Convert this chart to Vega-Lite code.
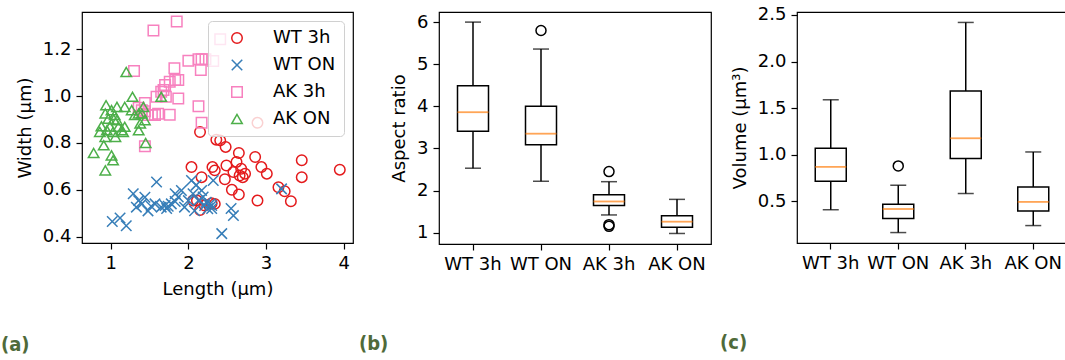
{
  "$schema": "https://vega.github.io/schema/vega-lite/v6.json",
  "background": "white",
  "padding": {"left": 0, "top": 5, "right": 0, "bottom": 0},
  "spacing": 86,
  "bounds": "flush",
  "resolve": {"legend": {"color": "independent", "shape": "independent"}},
  "datasets": {
    "cells": [
      {"g": "WT 3h", "L": 2.15, "W": 0.847}, {"g": "WT 3h", "L": 2.36, "W": 0.814}, {"g": "WT 3h", "L": 2.41, "W": 0.811},
      {"g": "WT 3h", "L": 2.48, "W": 0.783}, {"g": "WT 3h", "L": 2.65, "W": 0.757}, {"g": "WT 3h", "L": 2.86, "W": 0.740},
      {"g": "WT 3h", "L": 3.46, "W": 0.726}, {"g": "WT 3h", "L": 3.95, "W": 0.686}, {"g": "WT 3h", "L": 2.89, "W": 0.886},
      {"g": "WT 3h", "L": 2.04, "W": 0.697}, {"g": "WT 3h", "L": 2.17, "W": 0.654}, {"g": "WT 3h", "L": 2.31, "W": 0.697},
      {"g": "WT 3h", "L": 2.34, "W": 0.683}, {"g": "WT 3h", "L": 2.49, "W": 0.704}, {"g": "WT 3h", "L": 2.47, "W": 0.645},
      {"g": "WT 3h", "L": 2.58, "W": 0.676}, {"g": "WT 3h", "L": 2.62, "W": 0.719}, {"g": "WT 3h", "L": 2.66, "W": 0.661},
      {"g": "WT 3h", "L": 2.68, "W": 0.690}, {"g": "WT 3h", "L": 2.70, "W": 0.654}, {"g": "WT 3h", "L": 2.73, "W": 0.669},
      {"g": "WT 3h", "L": 2.94, "W": 0.697}, {"g": "WT 3h", "L": 3.01, "W": 0.669}, {"g": "WT 3h", "L": 2.56, "W": 0.600},
      {"g": "WT 3h", "L": 2.65, "W": 0.580}, {"g": "WT 3h", "L": 2.89, "W": 0.554}, {"g": "WT 3h", "L": 3.16, "W": 0.611},
      {"g": "WT 3h", "L": 3.24, "W": 0.594}, {"g": "WT 3h", "L": 3.32, "W": 0.551}, {"g": "WT 3h", "L": 3.46, "W": 0.654},
      {"g": "WT 3h", "L": 2.06, "W": 0.554}, {"g": "WT 3h", "L": 2.15, "W": 0.514}, {"g": "WT 3h", "L": 2.30, "W": 0.543},
      {"g": "WT 3h", "L": 2.34, "W": 0.540}, {"g": "WT 3h", "L": 2.11, "W": 0.554}, {"g": "WT 3h", "L": 2.21, "W": 0.533},
      {"g": "WT ON", "L": 1.02, "W": 0.465}, {"g": "WT ON", "L": 1.12, "W": 0.480}, {"g": "WT ON", "L": 1.20, "W": 0.447},
      {"g": "WT ON", "L": 1.29, "W": 0.583}, {"g": "WT ON", "L": 1.33, "W": 0.526}, {"g": "WT ON", "L": 1.36, "W": 0.554},
      {"g": "WT ON", "L": 1.40, "W": 0.540}, {"g": "WT ON", "L": 1.44, "W": 0.568}, {"g": "WT ON", "L": 1.48, "W": 0.510},
      {"g": "WT ON", "L": 1.52, "W": 0.530}, {"g": "WT ON", "L": 1.59, "W": 0.633}, {"g": "WT ON", "L": 1.57, "W": 0.540},
      {"g": "WT ON", "L": 1.65, "W": 0.526}, {"g": "WT ON", "L": 1.70, "W": 0.533}, {"g": "WT ON", "L": 1.72, "W": 0.520},
      {"g": "WT ON", "L": 1.74, "W": 0.530}, {"g": "WT ON", "L": 1.78, "W": 0.540}, {"g": "WT ON", "L": 1.83, "W": 0.583},
      {"g": "WT ON", "L": 1.87, "W": 0.569}, {"g": "WT ON", "L": 1.91, "W": 0.597}, {"g": "WT ON", "L": 1.83, "W": 0.550},
      {"g": "WT ON", "L": 1.95, "W": 0.526}, {"g": "WT ON", "L": 2.00, "W": 0.554}, {"g": "WT ON", "L": 2.04, "W": 0.640},
      {"g": "WT ON", "L": 2.06, "W": 0.583}, {"g": "WT ON", "L": 2.08, "W": 0.511}, {"g": "WT ON", "L": 2.10, "W": 0.620},
      {"g": "WT ON", "L": 2.13, "W": 0.554}, {"g": "WT ON", "L": 2.17, "W": 0.597}, {"g": "WT ON", "L": 2.19, "W": 0.569},
      {"g": "WT ON", "L": 2.21, "W": 0.533}, {"g": "WT ON", "L": 2.23, "W": 0.547}, {"g": "WT ON", "L": 2.25, "W": 0.519},
      {"g": "WT ON", "L": 2.28, "W": 0.540}, {"g": "WT ON", "L": 2.30, "W": 0.533}, {"g": "WT ON", "L": 2.32, "W": 0.640},
      {"g": "WT ON", "L": 2.30, "W": 0.520}, {"g": "WT ON", "L": 2.55, "W": 0.520}, {"g": "WT ON", "L": 2.58, "W": 0.490},
      {"g": "WT ON", "L": 2.43, "W": 0.413}, {"g": "WT ON", "L": 3.20, "W": 0.604},
      {"g": "AK 3h", "L": 1.55, "W": 1.280}, {"g": "AK 3h", "L": 1.85, "W": 1.318}, {"g": "AK 3h", "L": 2.41, "W": 1.243},
      {"g": "AK 3h", "L": 1.30, "W": 1.107}, {"g": "AK 3h", "L": 2.00, "W": 1.151}, {"g": "AK 3h", "L": 2.13, "W": 1.157},
      {"g": "AK 3h", "L": 2.17, "W": 1.157}, {"g": "AK 3h", "L": 2.22, "W": 1.157}, {"g": "AK 3h", "L": 2.32, "W": 1.150},
      {"g": "AK 3h", "L": 2.16, "W": 1.111}, {"g": "AK 3h", "L": 1.82, "W": 1.119}, {"g": "AK 3h", "L": 1.83, "W": 1.069},
      {"g": "AK 3h", "L": 1.87, "W": 1.069}, {"g": "AK 3h", "L": 1.76, "W": 1.061}, {"g": "AK 3h", "L": 1.70, "W": 1.047},
      {"g": "AK 3h", "L": 1.68, "W": 1.026}, {"g": "AK 3h", "L": 1.65, "W": 1.019}, {"g": "AK 3h", "L": 1.71, "W": 0.997},
      {"g": "AK 3h", "L": 1.87, "W": 0.990}, {"g": "AK 3h", "L": 1.59, "W": 0.997}, {"g": "AK 3h", "L": 2.13, "W": 0.957},
      {"g": "AK 3h", "L": 1.44, "W": 0.971}, {"g": "AK 3h", "L": 1.40, "W": 0.940}, {"g": "AK 3h", "L": 1.44, "W": 0.935},
      {"g": "AK 3h", "L": 1.48, "W": 0.919}, {"g": "AK 3h", "L": 1.53, "W": 0.919}, {"g": "AK 3h", "L": 1.57, "W": 0.919},
      {"g": "AK 3h", "L": 1.61, "W": 0.925}, {"g": "AK 3h", "L": 1.76, "W": 0.920}, {"g": "AK 3h", "L": 2.17, "W": 0.886},
      {"g": "AK 3h", "L": 1.44, "W": 0.786}, {"g": "AK 3h", "L": 1.36, "W": 0.950},
      {"g": "AK ON", "L": 1.20, "W": 1.103}, {"g": "AK ON", "L": 1.65, "W": 0.997}, {"g": "AK ON", "L": 1.28, "W": 0.997},
      {"g": "AK ON", "L": 0.94, "W": 0.961}, {"g": "AK ON", "L": 1.08, "W": 0.954}, {"g": "AK ON", "L": 1.01, "W": 0.940},
      {"g": "AK ON", "L": 0.93, "W": 0.926}, {"g": "AK ON", "L": 0.88, "W": 0.871}, {"g": "AK ON", "L": 0.86, "W": 0.847},
      {"g": "AK ON", "L": 0.95, "W": 0.854}, {"g": "AK ON", "L": 0.97, "W": 0.904}, {"g": "AK ON", "L": 1.05, "W": 0.919},
      {"g": "AK ON", "L": 1.08, "W": 0.897}, {"g": "AK ON", "L": 1.10, "W": 0.869}, {"g": "AK ON", "L": 1.03, "W": 0.847},
      {"g": "AK ON", "L": 1.06, "W": 0.826}, {"g": "AK ON", "L": 0.93, "W": 0.826}, {"g": "AK ON", "L": 0.91, "W": 0.790},
      {"g": "AK ON", "L": 0.78, "W": 0.757}, {"g": "AK ON", "L": 1.01, "W": 0.747}, {"g": "AK ON", "L": 1.03, "W": 0.726},
      {"g": "AK ON", "L": 0.93, "W": 0.683}, {"g": "AK ON", "L": 1.18, "W": 0.954}, {"g": "AK ON", "L": 1.27, "W": 0.940},
      {"g": "AK ON", "L": 1.31, "W": 0.919}, {"g": "AK ON", "L": 1.36, "W": 0.926}, {"g": "AK ON", "L": 1.40, "W": 0.926},
      {"g": "AK ON", "L": 1.42, "W": 0.954}, {"g": "AK ON", "L": 1.44, "W": 0.897}, {"g": "AK ON", "L": 1.38, "W": 0.883},
      {"g": "AK ON", "L": 1.36, "W": 0.854}, {"g": "AK ON", "L": 1.14, "W": 0.854}, {"g": "AK ON", "L": 1.18, "W": 0.869},
      {"g": "AK ON", "L": 1.45, "W": 0.800}, {"g": "AK ON", "L": 1.16, "W": 0.847}, {"g": "AK ON", "L": 1.04, "W": 0.900},
      {"g": "AK ON", "L": 0.99, "W": 0.870}
    ],
    "ar": [
      {"cat": "WT 3h", "lo": 2.53, "q1": 3.41, "med": 3.86, "q3": 4.49, "hi": 6.0},
      {"cat": "WT ON", "lo": 2.22, "q1": 3.09, "med": 3.35, "q3": 4.0, "hi": 5.36},
      {"cat": "AK 3h", "lo": 1.42, "q1": 1.645, "med": 1.74, "q3": 1.9, "hi": 2.21},
      {"cat": "AK ON", "lo": 0.98, "q1": 1.13, "med": 1.26, "q3": 1.40, "hi": 1.79}
    ],
    "ar_out": [
      {"cat": "WT ON", "v": 5.8},
      {"cat": "AK 3h", "v": 2.45},
      {"cat": "AK 3h", "v": 1.19},
      {"cat": "AK 3h", "v": 1.15}
    ],
    "vol": [
      {"cat": "WT 3h", "lo": 0.41, "q1": 0.716, "med": 0.87, "q3": 1.07, "hi": 1.59},
      {"cat": "WT ON", "lo": 0.165, "q1": 0.315, "med": 0.418, "q3": 0.469, "hi": 0.673},
      {"cat": "AK 3h", "lo": 0.584, "q1": 0.959, "med": 1.177, "q3": 1.685, "hi": 2.42},
      {"cat": "AK ON", "lo": 0.24, "q1": 0.397, "med": 0.494, "q3": 0.655, "hi": 1.03}
    ],
    "vol_out": [
      {"cat": "WT ON", "v": 0.88}
    ]
  },
  "hconcat": [
    {
      "width": 271,
      "height": 231,
      "title": {"text": "(a)", "orient": "bottom", "anchor": "start", "frame": "group", "dx": -81, "offset": 37},
      "data": {"name": "cells"},
      "mark": {"type": "point", "filled": false, "strokeWidth": 1.5, "size": 110, "opacity": 1},
      "encoding": {
        "x": {"field": "L", "type": "quantitative", "scale": {"domain": [0.63, 4.12], "nice": false, "zero": false},
              "axis": {"values": [1, 2, 3, 4], "title": "Length (μm)"}},
        "y": {"field": "W", "type": "quantitative", "scale": {"domain": [0.373, 1.359], "nice": false, "zero": false},
              "axis": {"values": [0.4, 0.6, 0.8, 1.0, 1.2], "format": ".1f", "title": "Width (μm)"}},
        "color": {"field": "g", "type": "nominal",
                  "scale": {"domain": ["WT 3h", "WT ON", "AK 3h", "AK ON"], "range": ["#e41a1c", "#377eb8", "#f781bf", "#4daf4a"]},
                  "legend": {"title": null, "orient": "top-right", "offset": 9, "fillColor": "rgba(255,255,255,0.8)", "strokeColor": "#d0d0d0",
                             "cornerRadius": 4, "padding": 8, "labelFontSize": 18, "labelFont": "DejaVu Sans", "labelColor": "black",
                             "symbolSize": 110, "symbolStrokeWidth": 1.5, "rowPadding": 9, "labelOffset": 27, "symbolOffset": 12}},
        "shape": {"field": "g", "type": "nominal",
                  "scale": {"domain": ["WT 3h", "WT ON", "AK 3h", "AK ON"], "range": ["circle", "M-1,-1L1,1M-1,1L1,-1", "square", "triangle-up"]}}
      }
    },
    {
      "width": 272,
      "height": 232,
      "title": {"text": "(b)", "orient": "bottom", "anchor": "start", "frame": "group", "dx": -80, "offset": 61},
      "data": {"name": "ar"},
      "encoding": {
        "x": {"field": "cat", "type": "nominal", "sort": ["WT 3h", "WT ON", "AK 3h", "AK ON"],
              "scale": {"type": "band", "paddingInner": 0, "paddingOuter": 0},
              "axis": {"title": null, "labelAngle": 0, "bandPosition": 0.5}}
      },
      "layer": [
        {"mark": {"type": "rule", "color": "black", "strokeWidth": 1.5},
         "encoding": {"y": {"field": "lo", "type": "quantitative", "scale": {"domain": [0.73, 6.24], "nice": false, "zero": false},
                            "axis": {"values": [1, 2, 3, 4, 5, 6], "title": "Aspect ratio"}},
                      "y2": {"field": "hi"}}},
        {"mark": {"type": "bar", "width": 31, "fill": "white", "stroke": "black", "strokeWidth": 1.5},
         "encoding": {"y": {"field": "q1", "type": "quantitative"}, "y2": {"field": "q3"}}},
        {"mark": {"type": "tick", "color": "#ff7f0e", "size": 31, "thickness": 1.8},
         "encoding": {"y": {"field": "med", "type": "quantitative"}}},
        {"mark": {"type": "tick", "color": "black", "size": 16, "thickness": 1.5},
         "encoding": {"y": {"field": "lo", "type": "quantitative"}}},
        {"mark": {"type": "tick", "color": "black", "size": 16, "thickness": 1.5},
         "encoding": {"y": {"field": "hi", "type": "quantitative"}}},
        {"data": {"name": "ar_out"},
         "mark": {"type": "point", "filled": false, "color": "black", "size": 100, "strokeWidth": 1.5, "opacity": 1},
         "encoding": {"y": {"field": "v", "type": "quantitative"}}}
      ]
    },
    {
      "width": 270,
      "height": 231,
      "title": {"text": "(c)", "orient": "bottom", "anchor": "start", "frame": "group", "dx": -77, "offset": 61},
      "data": {"name": "vol"},
      "encoding": {
        "x": {"field": "cat", "type": "nominal", "sort": ["WT 3h", "WT ON", "AK 3h", "AK ON"],
              "scale": {"type": "band", "paddingInner": 0, "paddingOuter": 0},
              "axis": {"title": null, "labelAngle": 0, "bandPosition": 0.5}}
      },
      "layer": [
        {"mark": {"type": "rule", "color": "black", "strokeWidth": 1.5},
         "encoding": {"y": {"field": "lo", "type": "quantitative", "scale": {"domain": [0.053, 2.532], "nice": false, "zero": false},
                            "axis": {"values": [0.5, 1.0, 1.5, 2.0, 2.5], "format": ".1f", "title": "Volume (μm³)"}},
                      "y2": {"field": "hi"}}},
        {"mark": {"type": "bar", "width": 31, "fill": "white", "stroke": "black", "strokeWidth": 1.5},
         "encoding": {"y": {"field": "q1", "type": "quantitative"}, "y2": {"field": "q3"}}},
        {"mark": {"type": "tick", "color": "#ff7f0e", "size": 31, "thickness": 1.8},
         "encoding": {"y": {"field": "med", "type": "quantitative"}}},
        {"mark": {"type": "tick", "color": "black", "size": 16, "thickness": 1.5},
         "encoding": {"y": {"field": "lo", "type": "quantitative"}}},
        {"mark": {"type": "tick", "color": "black", "size": 16, "thickness": 1.5},
         "encoding": {"y": {"field": "hi", "type": "quantitative"}}},
        {"data": {"name": "vol_out"},
         "mark": {"type": "point", "filled": false, "color": "black", "size": 100, "strokeWidth": 1.5, "opacity": 1},
         "encoding": {"y": {"field": "v", "type": "quantitative"}}}
      ]
    }
  ],
  "config": {
    "font": "DejaVu Sans",
    "view": {"stroke": "black", "strokeWidth": 1.2},
    "axis": {"domain": false, "grid": false, "ticks": true, "tickColor": "black", "tickSize": 6, "tickWidth": 1.2,
             "labelFontSize": 18, "labelColor": "black", "labelFont": "DejaVu Sans", "labelPadding": 5,
             "titleFontSize": 18, "titleFont": "DejaVu Sans", "titleFontWeight": "normal", "titleColor": "black", "titlePadding": 8},
    "title": {"font": "DejaVu Sans Condensed", "fontWeight": "bold", "fontSize": 20, "color": "#4f6a3a"}
  }
}
